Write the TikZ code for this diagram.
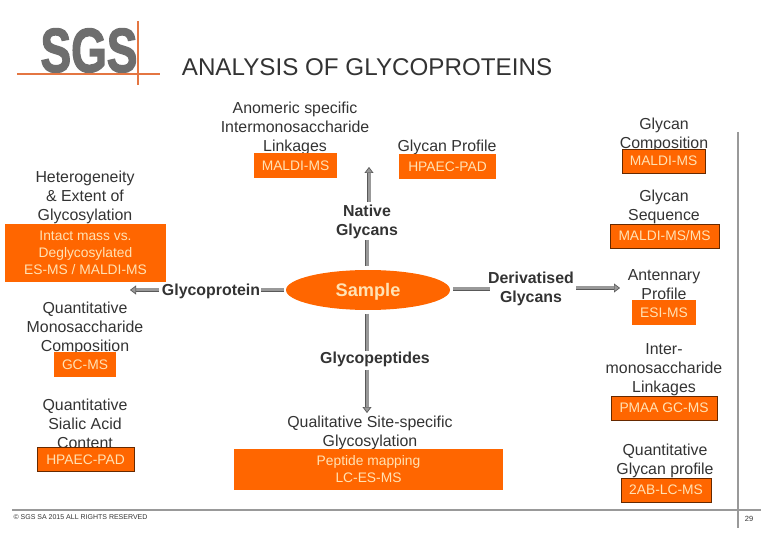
\documentclass[tikz,border=0pt]{standalone}
\usepackage{fontspec}
\setmainfont{Liberation Sans}
\newfontfamily\logofont[FakeBold=2.5]{Liberation Sans Bold}
\usetikzlibrary{arrows.meta, shapes.geometric}
\definecolor{sorange}{RGB}{255,102,0}
\definecolor{scream}{RGB}{255,226,180}
\definecolor{sgrey}{RGB}{153,153,153}
\definecolor{sdark}{RGB}{51,51,51}
\definecolor{slogo}{RGB}{110,110,110}
\definecolor{sline}{RGB}{228,118,66}

\begin{document}
\begin{tikzpicture}[
  x=1pt, y=-1pt,
  topic/.style={align=center, inner sep=0pt, text=sdark, font=\fontsize{15.9}{19}\selectfont},
  stage/.style={align=center, inner sep=0pt, text=sdark, font=\fontsize{15.9}{19}\selectfont\bfseries},
  method/.style={rectangle, fill=sorange, text=scream, align=center, inner sep=0pt, font=\fontsize{13.8}{17}\selectfont},
  methodline/.style={method, draw=black!60!sorange, line width=0.8pt},
  sample/.style={ellipse, fill=sorange, text=scream, inner sep=0pt, minimum width=164pt, minimum height=40pt, text height=14pt, text depth=0pt, font=\fontsize{18.2}{19}\selectfont\bfseries},
  link/.style={draw=black!65, double=sgrey, double distance=3pt, line width=0.7pt},
  linkto/.style={link, -{Triangle[length=6pt, width=9pt, fill=sgrey, line width=0.7pt]}},
  rule/.style={sgrey, line width=1.6pt},
  logoline/.style={draw=sline, line width=1.4pt},
]
\useasboundingbox (0,0) rectangle (780,540);

% ---- logo
\node[inner sep=0pt, text=slogo, font=\fontsize{62}{62}\logofont] (logo) at (89,50.5) {\scalebox{0.74}[1]{SGS}};
\coordinate (lh1) at (17,74);
\coordinate (lh2) at (160,74);
\coordinate (lv1) at (138,21);
\coordinate (lv2) at (138,85);
\draw[logoline] (lh1) -- (lh2);
\draw[logoline] (lv1) -- (lv2);
\node[inner sep=0pt, text=sdark, font=\fontsize{24.2}{28}\selectfont] (title) at (367,67) {ANALYSIS OF GLYCOPROTEINS};

% ---- page rules
\coordinate (rv1) at (738,132);
\coordinate (rv2) at (738,528);
\coordinate (rh1) at (12,510);
\coordinate (rh2) at (761,510);
\draw[rule] (rv1) -- (rv2);
\draw[rule] (rh1) -- (rh2);
\node[inner sep=0pt, text=sdark, font=\fontsize{7}{8}\selectfont] (copy) at (80.5,517) {© SGS SA 2015 ALL RIGHTS RESERVED};
\node[inner sep=0pt, text=sdark, font=\fontsize{7.5}{8}\selectfont] (page) at (749,519) {29};

% ---- topics, the method boxes sit over them
\node[topic] (anomeric) at (295,128) {Anomeric specific\\Intermonosaccharide\\Linkages};
\node[topic] (profile)  at (447,147) {Glycan Profile};
\node[topic] (compo)    at (664,134.5) {Glycan\\Composition};
\node[topic] (sequence) at (664,207) {Glycan\\Sequence};
\node[topic] (antenna)  at (664,284.5) {Antennary\\Profile};
\node[topic] (inter)    at (664,370) {Inter-\\monosaccharide\\Linkages};
\node[topic] (quantgly) at (665,460.5) {Quantitative\\Glycan profile};
\node[topic] (hetero)   at (85,197) {Heterogeneity\\\& Extent of\\Glycosylation};
\node[topic] (mono)     at (85,328) {Quantitative\\Monosaccharide\\Composition};
\node[topic] (sialic)   at (85,423.5) {Quantitative\\Sialic Acid\\Content};
\node[topic] (site)     at (370,432.5) {Qualitative Site-specific\\Glycosylation};

% ---- methods
\node[method, minimum width=83pt, minimum height=25pt]      (m1)  at (295.5,165.5) {MALDI-MS};
\node[method, minimum width=97pt, minimum height=25pt]      (m2)  at (447.5,166.5) {HPAEC-PAD};
\node[methodline, minimum width=83pt, minimum height=24pt]  (m3)  at (663.5,161)   {MALDI-MS};
\node[methodline, minimum width=109pt, minimum height=24pt] (m4)  at (664.5,236)   {MALDI-MS/MS};
\node[method, minimum width=64pt, minimum height=25pt]      (m5)  at (664,312.5)   {ESI-MS};
\node[methodline, minimum width=106pt, minimum height=24pt] (m6)  at (664,408)     {PMAA GC-MS};
\node[methodline, minimum width=90pt, minimum height=24pt]  (m7)  at (666,490)     {2AB-LC-MS};
\node[method, minimum width=269pt, minimum height=41pt]     (m8)  at (368.5,469.5) {Peptide mapping\\LC-ES-MS};
\node[method, minimum width=161pt, minimum height=58pt]     (m9)  at (85.5,253)    {Intact mass vs.\\Deglycosylated\\ES-MS / MALDI-MS};
\node[method, minimum width=62pt, minimum height=25pt]      (m10) at (85,364.5)    {GC-MS};
\node[methodline, minimum width=97pt, minimum height=24pt]  (m11) at (85.5,459.5)  {HPAEC-PAD};

% ---- centre
\node[sample] (smp) at (368,290) {Sample};
\node[stage] (native) at (367,221.5) {Native\\Glycans};
\node[stage] (gprot)  at (211,291)   {Glycoprotein};
\node[stage] (deriv)  at (531,288.5) {Derivatised\\Glycans};
\node[stage] (gpep)   at (375,359)   {Glycopeptides};
\coordinate (upbase)   at (369,202);
\coordinate (upend)    at (369,167);
\coordinate (leftend)  at (130,290);
\coordinate (rightend) at (620,288);
\coordinate (nat)      at (367,240);
\coordinate (smptop)   at (367,266);
\coordinate (smpbot)   at (367,314);
\coordinate (peptop)   at (367,351);
\coordinate (pepbot)   at (367,370);
\coordinate (siteend)  at (367,413);
\coordinate (gl)       at (159,290);
\coordinate (gr)       at (261,290);
\coordinate (sl)       at (284,290);
\coordinate (sr)       at (453,289);
\coordinate (dl)       at (490,289);
\coordinate (dr)       at (576,288);

% ---- connectors
\draw[link]   (nat) -- (smptop);
\draw[linkto] (upbase) -- (upend);
\draw[link]   (gr) -- (sl);
\draw[linkto] (gl) -- (leftend);
\draw[link]   (sr) -- (dl);
\draw[linkto] (dr) -- (rightend);
\draw[link]   (smpbot) -- (peptop);
\draw[linkto] (pepbot) -- (siteend);

\end{tikzpicture}
\end{document}
